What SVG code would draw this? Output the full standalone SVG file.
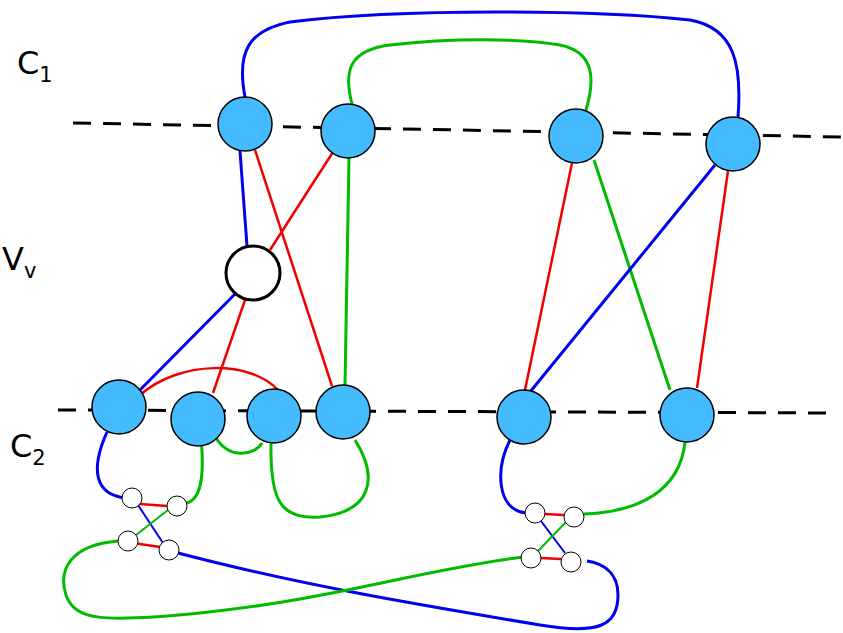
<svg xmlns="http://www.w3.org/2000/svg" width="843" height="633" viewBox="0 0 843 633">
<style>
.big{fill:#44bbff;stroke:#000;stroke-width:1.5}
.sm{fill:#fff;stroke:#000;stroke-width:1}
.dash{stroke:#000;stroke-width:3;stroke-dasharray:18,12;fill:none}
.b{stroke:#0000ee;stroke-width:3;fill:none}
.r{stroke:#ee0000;stroke-width:2.5;fill:none}
.g{stroke:#00bb00;stroke-width:3;fill:none}
.t{stroke-width:2}
text{font-family:"DejaVu Sans",sans-serif;font-size:32px}
</style>
<rect width="843" height="633" fill="#fff"/>
<line class="dash" x1="73" y1="123" x2="843" y2="137"/>
<line class="dash" x1="58" y1="410" x2="835" y2="413"/>
<text x="17" y="74">C<tspan font-size="21" dy="8">1</tspan></text>
<text x="2" y="270">V<tspan font-size="21" dy="8">v</tspan></text>
<text x="10" y="457">C<tspan font-size="21" dy="8">2</tspan></text>
<g id="connectors">
<path class="b" d="M245,97 C236,50 250,30 290,22 C400,8 600,10 690,20 C735,28 742,65 738,117"/>
<path class="g" d="M352,104 C343,70 350,50 390,45 C450,38 520,38 560,45 C595,52 595,80 586,110"/>
<path class="b" d="M240,151 L247,246"/>
<path class="r" d="M255,150 L332,386"/>
<path class="r" d="M333,152 L270,250"/>
<path class="r" d="M245,300 L213,393"/>
<path class="g" d="M349,158 L345,385"/>
<path class="b" d="M235,294 L140,390"/>
<path class="r" d="M140,395 C180,360 250,360 278,390"/>
<path class="r" d="M572,163 L525,390"/>
<path class="g" d="M594,160 L670,390"/>
<path class="b" d="M715,165 L530,392"/>
<path class="r" d="M728,171 L697,388"/>
<path class="g" d="M216,438 C230,460 255,455 262,443"/>
<path class="b" d="M107,432 C90,470 95,495 126,498"/>
<path class="g" d="M201,438 C205,480 200,500 186,503"/>
<path class="r" d="M140,504 L167,506"/>
<path class="r" d="M133,543 L160,547"/>
<path class="b t" d="M138,505 L163,543"/>
<path class="g t" d="M168,510 L136,535"/>
<path class="b" d="M178,553 C300,585 420,605 540,625 C600,635 618,625 618,595 C618,570 600,563 587,561"/>
<path class="g" d="M118,541 C70,545 58,570 66,595 C75,620 100,623 200,613 C330,600 420,570 523,557"/>
<path class="g" d="M271,443 C270,500 280,520 320,517 C370,512 380,480 355,440"/>
<path class="b" d="M510,440 C495,470 497,510 526,513"/>
<path class="g" d="M685,442 C680,490 640,512 584,514"/>
<path class="r" d="M545,514 L564,515"/>
<path class="r" d="M541,558 L561,559"/>
<path class="b t" d="M541,521 L565,553"/>
<path class="g t" d="M566,522 L538,551"/>
</g>
<g id="A"><circle class="big" cx="245" cy="124" r="27"/></g>
<g id="B"><circle class="big" cx="348" cy="131" r="27"/></g>
<g id="C"><circle class="big" cx="576" cy="136" r="27"/></g>
<g id="D"><circle class="big" cx="733" cy="144" r="27"/></g>
<g id="Vv"><circle cx="253" cy="273" r="27" fill="#fff" stroke="#000" stroke-width="3"/></g>
<g id="E"><circle class="big" cx="119" cy="407" r="27"/></g>
<g id="F"><circle class="big" cx="198" cy="419" r="27"/></g>
<g id="G"><circle class="big" cx="274" cy="416" r="27"/></g>
<g id="H"><circle class="big" cx="343" cy="412" r="27"/></g>
<g id="I"><circle class="big" cx="524" cy="417" r="27"/></g>
<g id="J"><circle class="big" cx="687" cy="415" r="27"/></g>
<g id="a"><circle class="sm" cx="132" cy="498" r="10"/></g>
<g id="b"><circle class="sm" cx="177" cy="506" r="10"/></g>
<g id="c"><circle class="sm" cx="128" cy="541" r="10"/></g>
<g id="d"><circle class="sm" cx="169" cy="550" r="10"/></g>
<g id="e"><circle class="sm" cx="535" cy="513" r="10"/></g>
<g id="f"><circle class="sm" cx="574" cy="517" r="10"/></g>
<g id="g"><circle class="sm" cx="531" cy="558" r="10"/></g>
<g id="h"><circle class="sm" cx="571" cy="562" r="10"/></g>
</svg>
